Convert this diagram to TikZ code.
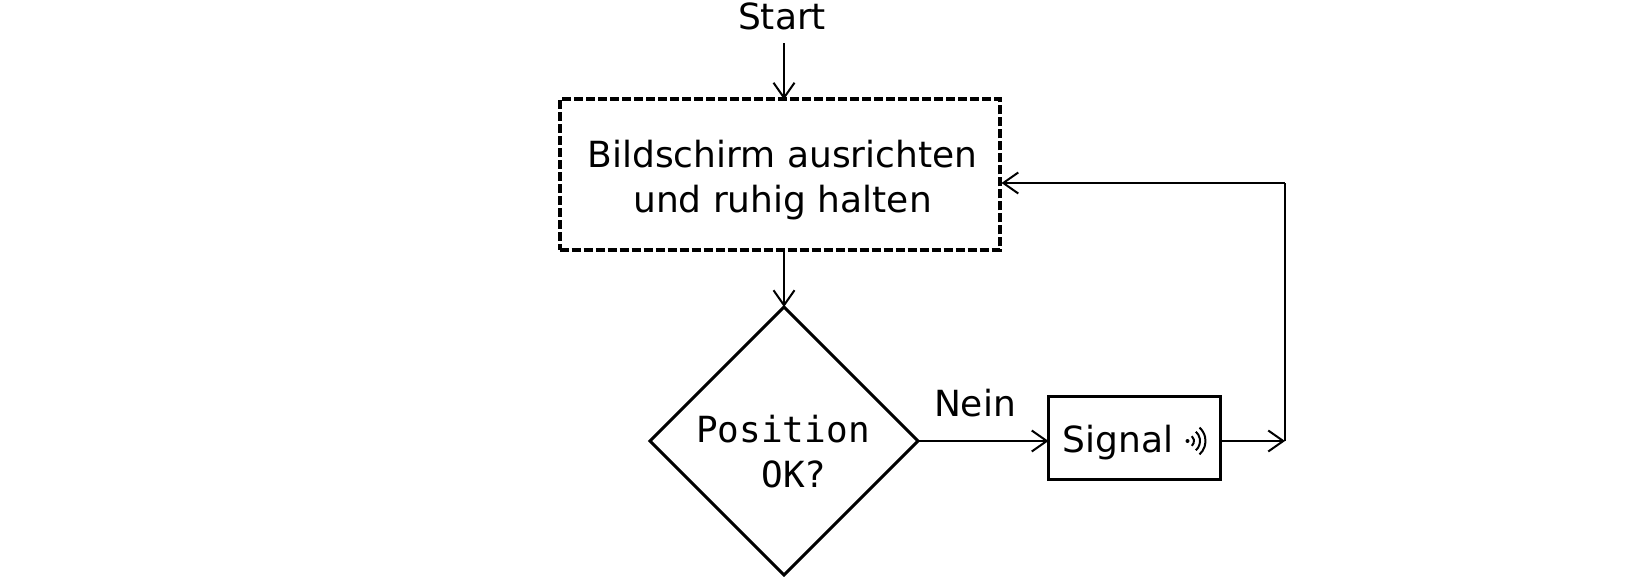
\documentclass[tikz,border=0pt]{standalone}
\usepackage{fontspec}
\setmainfont{DejaVu Sans}
\setmonofont{DejaVu Sans Mono}
\usetikzlibrary{arrows.meta, positioning, shapes.geometric}
\tikzset{
    dashbox/.style={
        draw,
        line width=4pt,
        dash pattern=on 9pt off 3pt,
        minimum width=440pt,
        minimum height=151pt,
        align=center,
        outer sep=0pt
    },
    decision/.style={
        draw,
        diamond,
        aspect=1,
        line width=3pt,
        inner sep=-10pt,
        outer sep=0pt,
        minimum size=268pt,
        align=center,
        font=\fontsize{36}{45}\selectfont\ttfamily
    },
    signalbox/.style={
        draw,
        line width=3pt,
        minimum width=172pt,
        minimum height=83pt,
        outer sep=0pt
    },
    line/.style={-{Straight Barb[length=15pt,width=21pt]}, line width=2pt},
    plainline/.style={line width=2pt},
    wave/.style={line width=2pt},
    every node/.style={font=\fontsize{36}{45}\selectfont}
}
\begin{document}
\begin{tikzpicture}[x=1pt,y=-1pt]
\useasboundingbox (0,0) rectangle (1639,577);

\node[dashbox] (align) at (779.5,175) {\hspace*{6pt}\rule{0pt}{38pt}Bildschirm ausrichten\\\hspace*{6pt}und ruhig halten};
\node[above=56pt of align, xshift=2.5pt, inner ysep=0pt, minimum height=54.4pt, anchor=south] (start) {Start};
\node[decision, below=56.5pt of align, xshift=4.5pt] (check) {\rule{0pt}{48.4pt}Position\rule{2pt}{0pt}\\\phantom{x}OK?\rule{2pt}{0pt}};
\node[signalbox, right=130.5pt of check, yshift=2.6pt] (signal) {\rule{0pt}{34.8pt}Signal\rule{33.4pt}{0pt}};
\node[above=0pt of check.east, anchor=south, xshift=57pt, yshift=20pt] (nein) {Nein};

\coordinate (corner) at (1285,441);
\coordinate (back) at (1285,183);
\coordinate (icon) at ([xshift=53pt]signal.center |- check.east);

\fill (icon) circle (2pt);
\foreach \r in {6.5,12.5,18} {
    \draw[wave] (icon) ++(-48:\r pt) arc[start angle=-48, end angle=48, radius=\r pt];
}

\draw[line] (start.south -| check.north) -- (check.north |- align.north);
\draw[line] (check.north |- align.south) -- (check.north);
\draw[line] (check.east) -- (signal.west |- check.east);
\draw[line] (signal.east |- check.east) -- (corner);
\draw[plainline] (corner) -- (back);
\draw[line] (back) -- ([xshift=2pt]back -| align.east);
\end{tikzpicture}
\end{document}
